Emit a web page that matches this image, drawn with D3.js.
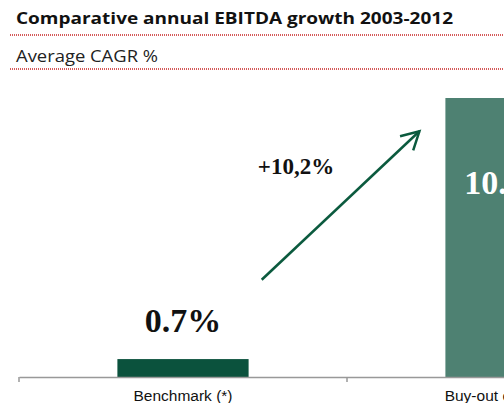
<!DOCTYPE html>
<html><head><meta charset="utf-8">
<script src="https://cdn.jsdelivr.net/npm/d3@7"></script>
<style>body{margin:0;background:#fff;overflow:hidden}</style>
</head><body>
<script>
const categories = ["Benchmark (*)", "Buy-out companies"];
const values = [0.7, 10.9];
const valueLabels = ["0.7%", "10.9%"];
const growthLabel = "+10,2%";
const title = "Comparative annual EBITDA growth 2003-2012";
const subtitle = "Average CAGR %";
const colors = ["#0b523d", "#4e8172"];

const W = 504, H = 403;
const svg = d3.select("body").append("svg").attr("width", W).attr("height", H);

svg.append("text").attr("x", 16).attr("y", 24)
  .attr("font-family", "Open Sans").attr("font-weight", 700).attr("font-size", 16.5)
  .attr("fill", "#111").attr("textLength", 437).attr("lengthAdjust", "spacingAndGlyphs").text(title);
svg.append("text").attr("x", 16).attr("y", 62)
  .attr("font-family", "Open Sans").attr("font-weight", 400).attr("font-size", 16)
  .attr("fill", "#222").attr("textLength", 142).attr("lengthAdjust", "spacingAndGlyphs").text(subtitle);
[35, 69].forEach(y => {
  svg.append("line").attr("x1", 10).attr("x2", W).attr("y1", y).attr("y2", y)
    .attr("stroke", "#d45a5a").attr("stroke-width", 2).attr("stroke-dasharray", "1,1");
});

const x = d3.scaleBand().domain(categories).range([19, 675]).paddingInner(0.6).paddingOuter(0.3);
const y = d3.scaleLinear().domain([0, 10.9]).range([377, 98]);

svg.selectAll("rect.bar").data(values).join("rect").attr("class", "bar")
  .attr("x", (d, i) => x(categories[i])).attr("width", x.bandwidth())
  .attr("y", d => y(d)).attr("height", d => y(0) - y(d))
  .attr("fill", (d, i) => colors[i]);

const axis = d3.axisBottom(x).tickSizeInner(0).tickSizeOuter(0).tickPadding(13);
const ag = svg.append("g").attr("transform", `translate(0,${y(0)})`).call(axis);
ag.select(".domain").attr("stroke", "#999").attr("stroke-width", 1.5);
ag.selectAll(".tick text").attr("font-family", "Liberation Sans, Arial").attr("font-size", 15.5).attr("fill", "#111");
const bounds = [x.range()[0], x.range()[0] + (x.range()[1] - x.range()[0]) / 2];
svg.selectAll("line.sep").data(bounds).join("line").attr("class", "sep")
  .attr("x1", d => d).attr("x2", d => d).attr("y1", y(0)).attr("y2", y(0) + 5)
  .attr("stroke", "#999").attr("stroke-width", 1.5);

// value labels
svg.append("text").attr("x", x(categories[0]) + x.bandwidth() / 2).attr("y", y(values[0]) - 27)
  .attr("text-anchor", "middle").attr("font-family", "Liberation Serif, DejaVu Serif").attr("font-weight", 700)
  .attr("font-size", 34).attr("fill", "#111").text(valueLabels[0]);
svg.append("text").attr("x", x(categories[1]) + x.bandwidth() / 2).attr("y", 194)
  .attr("text-anchor", "middle").attr("font-family", "Liberation Serif, DejaVu Serif").attr("font-weight", 700)
  .attr("font-size", 34).attr("fill", "#fff").text(valueLabels[1]);

// growth arrow
const ax0 = x(categories[0]) + x.bandwidth() * 1.1, ay0 = y(3.8);
const ax1 = x(categories[1]) - 26, ay1 = y(9.6);
svg.append("line").attr("x1", ax0).attr("y1", ay0).attr("x2", ax1).attr("y2", ay1)
  .attr("stroke", "#0b5a3e").attr("stroke-width", 2.5);
const ang = Math.atan2(ay1 - ay0, ax1 - ax0), L = 20, spread = 0.5;
svg.append("path")
  .attr("d", `M${ax1 - L * Math.cos(ang - spread)},${ay1 - L * Math.sin(ang - spread)} L${ax1},${ay1} L${ax1 - L * Math.cos(ang + spread)},${ay1 - L * Math.sin(ang + spread)}`)
  .attr("fill", "none").attr("stroke", "#0b5a3e").attr("stroke-width", 2.5);

svg.append("text").attr("x", 296).attr("y", 174).attr("text-anchor", "middle")
  .attr("font-family", "Liberation Serif, DejaVu Serif").attr("font-weight", 700).attr("font-size", 23)
  .attr("fill", "#111").text(growthLabel);
</script>
</body></html>
